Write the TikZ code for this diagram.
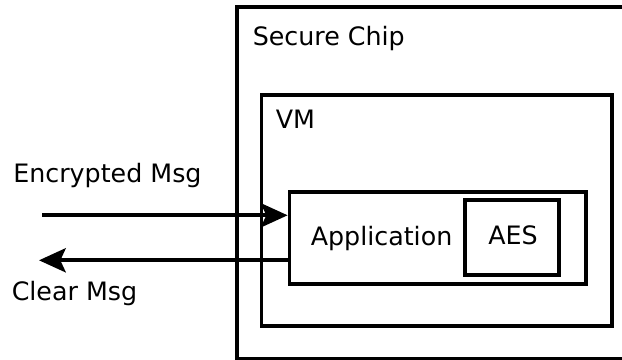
\documentclass[tikz,border=0pt]{standalone}
\usepackage{fontspec}
\setmainfont{DejaVu Sans}
\usetikzlibrary{arrows.meta}

\begin{document}
\begin{tikzpicture}[x=0.75pt, y=-0.75pt,
  box/.style={draw=black, line width=2.8pt, rectangle, inner sep=0pt, fill=none},
  lbl/.style={inner sep=0pt, anchor=base west, font=\fontsize{19}{22}\selectfont},
  msgarrow/.style={line width=3pt, -{Stealth[length=20pt, width=18pt, inset=4pt]}}]
  \useasboundingbox (0,0) rectangle (622,360);
  \clip (0,0) rectangle (622,360);
  \fill[white] (0,0) rectangle (622,360);

  % nested containers
  \node[box, minimum width=302.25pt, minimum height=263.6pt] (chip) at (438.5,182.75) {};
  \node[box, minimum width=262.9pt, minimum height=173.25pt] (vm) at (436.75,210.5) {};
  \node[box, minimum width=222.4pt, minimum height=69pt] (app) at (437.75,238) {};
  \node[box, minimum width=70pt, minimum height=55.8pt] (aes) at (512,237.5) {};

  % labels
  \node[lbl] (chiplbl) at (252.5,46) {Secure Chip};
  \node[lbl] (vmlbl) at (275.5,128.5) {VM};
  \node[lbl] (applbl) at (310.5,245.5) {Application};
  \node[lbl] (aeslbl) at (488,244.5) {AES};
  \node[lbl] (enclbl) at (13,182.7) {Encrypted Msg};
  \node[lbl] (clrlbl) at (11.5,300.5) {Clear Msg};

  % message flow
  \coordinate (encstart) at (42,215.3);
  \coordinate (clrend) at (39,260.3);
  \draw[msgarrow] (encstart) -- (encstart -| app.west);
  \draw[msgarrow] (clrend -| app.west) -- (clrend);
\end{tikzpicture}
\end{document}
